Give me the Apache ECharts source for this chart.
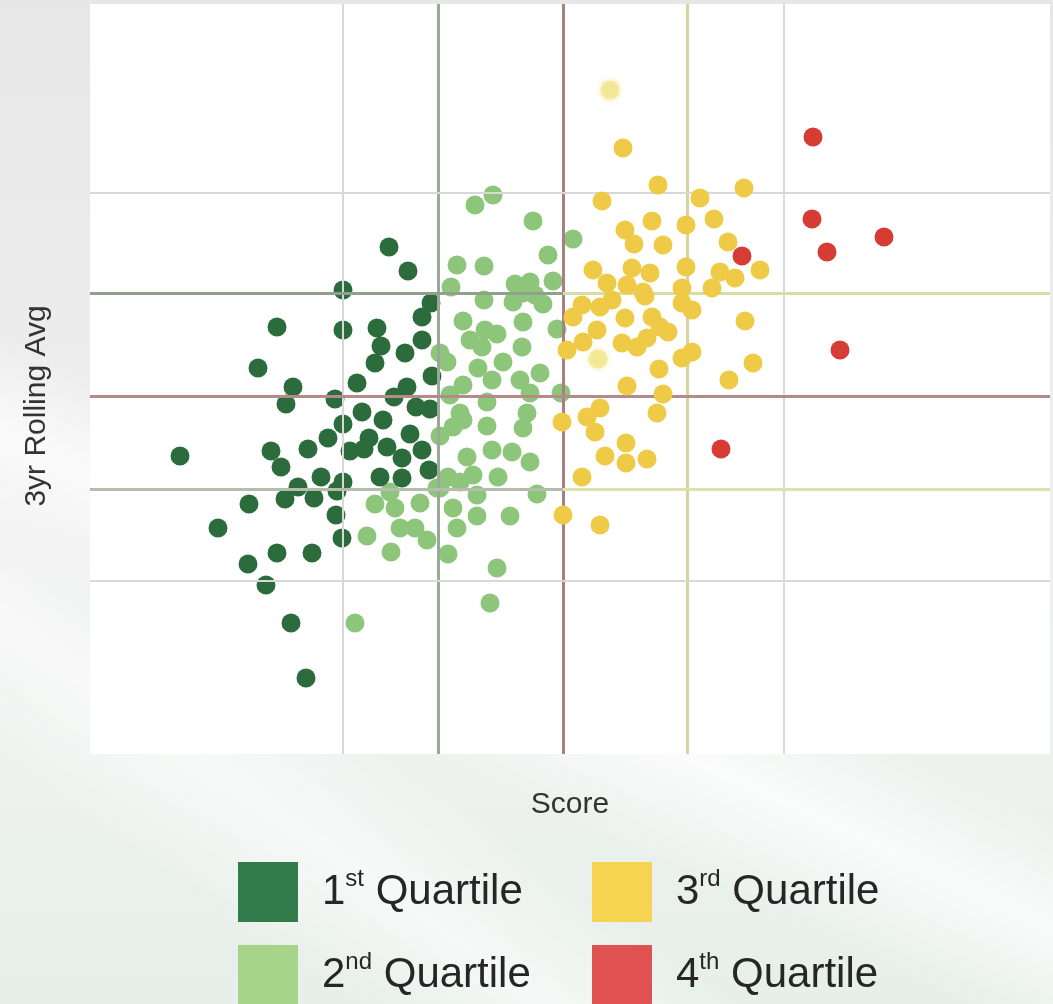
<!DOCTYPE html>
<html>
<head>
<meta charset="utf-8">
<script src="https://cdn.jsdelivr.net/npm/echarts/dist/echarts.min.js"></script>
<style>
  html, body { margin: 0; padding: 0; }
  body {
    width: 1053px; height: 1004px; overflow: hidden;
    background:
      linear-gradient(205deg, rgba(255,255,255,0) 55%, rgba(255,255,255,0.75) 62%, rgba(255,255,255,0) 70%),
      linear-gradient(215deg, rgba(255,255,255,0) 70%, rgba(255,255,255,0.6) 78%, rgba(255,255,255,0) 86%),
      linear-gradient(180deg, #e7e7e7 0%, #eeeeee 45%, #eef2ef 75%, #e6efea 100%);
  }
  #chart { width: 1053px; height: 1004px; }
</style>
</head>
<body>
<div id="chart"></div>
<script>
// Score (x) / 3yr Rolling Avg (y)
var q1Points = [
  [29.9, 50.7], [31.8, 48.3], [25.3, 46.4], [34.1, 45.1], [33.2, 43.7], [18.7, 42.7],
  [25.3, 42.4], [28.7, 42.6], [29.1, 40.8], [33.2, 41.4], [31.5, 40.1], [28.5, 39.1],
  [16.8, 38.6], [34.2, 37.8], [20.3, 36.7], [26.7, 37.1], [31.7, 36.7], [19.6, 35.0],
  [24.5, 35.5], [30.4, 35.7], [32.6, 34.7], [34.0, 34.5], [27.2, 34.2], [29.3, 33.4],
  [25.3, 33.0], [32.0, 32.0], [23.8, 31.6], [27.9, 31.6], [21.8, 30.5], [18.1, 30.3],
  [26.0, 30.3], [27.4, 30.5], [29.7, 30.7], [33.2, 30.4], [31.2, 29.6], [9.0, 29.8],
  [19.1, 28.7], [23.1, 27.7], [20.8, 26.7], [25.3, 27.2], [24.7, 26.3], [19.5, 25.5],
  [22.4, 25.6], [29.0, 27.7], [31.2, 27.6], [33.9, 28.4], [15.9, 25.0], [24.6, 23.9],
  [12.8, 22.6], [25.2, 21.6], [18.7, 20.1], [22.2, 20.1], [15.8, 19.0], [17.6, 16.9],
  [20.1, 13.1], [21.6, 7.6]
];
var q2Points = [
  [38.5, 54.9], [40.3, 55.9], [44.3, 53.3], [48.3, 51.5], [45.8, 49.9], [36.7, 48.9],
  [39.4, 48.8], [46.3, 47.3], [42.5, 47.0], [44.0, 47.2], [36.1, 46.7], [43.3, 46.1],
  [42.3, 45.2], [44.5, 45.9], [45.3, 45.0], [39.4, 45.4], [37.3, 43.3], [43.3, 43.2],
  [46.7, 42.5], [39.5, 42.4], [40.7, 42.0], [38.0, 41.4], [39.2, 40.7], [43.2, 40.7],
  [35.0, 40.1], [35.7, 39.2], [38.8, 38.6], [41.3, 39.2], [40.2, 37.4], [43.0, 37.4],
  [45.0, 38.1], [37.3, 36.9], [36.0, 35.9], [44.0, 36.1], [47.1, 36.1], [39.7, 35.2],
  [37.0, 34.1], [43.7, 34.1], [43.3, 32.6], [37.3, 33.4], [36.3, 32.7], [35.0, 31.8],
  [39.7, 32.8], [37.7, 29.7], [40.2, 30.4], [42.2, 30.2], [44.0, 29.2], [38.3, 27.9],
  [40.8, 27.7], [35.8, 27.7], [37.0, 27.2], [35.0, 26.6], [38.7, 25.9], [44.7, 26.0],
  [36.3, 24.6], [38.7, 23.8], [42.0, 23.8], [36.7, 22.6], [33.7, 21.4], [35.8, 20.0],
  [40.7, 18.6], [40.0, 15.1], [30.0, 26.2], [28.5, 25.0], [30.5, 24.6], [33.0, 25.1],
  [34.7, 26.6], [31.0, 22.6], [32.5, 22.6], [27.7, 21.8], [30.1, 20.2], [26.5, 13.1]
];
var q3Points = [
  [53.3, 60.6], [56.8, 56.9], [65.4, 56.6], [51.2, 55.3], [61.0, 55.6], [56.2, 53.3],
  [62.4, 53.5], [53.5, 52.4], [54.4, 51.0], [57.3, 50.9], [59.6, 52.9], [63.8, 51.2],
  [50.3, 48.4], [51.7, 47.1], [54.2, 48.6], [56.0, 48.1], [59.6, 48.7], [63.0, 48.2],
  [64.5, 47.6], [67.0, 48.4], [62.2, 46.6], [59.2, 46.6], [55.3, 46.2], [53.7, 46.9],
  [55.5, 45.8], [59.2, 45.1], [60.2, 44.4], [49.2, 44.9], [51.0, 44.7], [48.3, 43.7],
  [53.5, 43.6], [56.2, 43.7], [57.0, 42.7], [57.8, 42.2], [50.7, 42.4], [49.3, 41.2],
  [47.7, 40.4], [53.2, 41.1], [54.7, 40.7], [55.7, 41.6], [56.9, 38.5], [59.2, 39.6],
  [60.2, 40.2], [65.5, 43.3], [66.3, 39.1], [63.9, 37.4], [53.7, 36.8], [57.3, 36.0],
  [51.0, 34.6], [49.7, 33.7], [56.7, 34.1], [47.2, 33.2], [50.5, 32.2], [53.6, 31.1],
  [51.5, 29.8], [53.6, 29.1], [55.7, 29.5], [49.2, 27.7], [47.3, 23.9], [51.0, 22.9],
  [52.2, 45.4]
];
var q3FadedPoints = [[52.0, 66.4], [50.8, 39.5]];
var q4Points = [
  [72.3, 61.7], [72.2, 53.5], [79.4, 51.7], [73.7, 50.2], [75.0, 40.4], [63.1, 30.5],
  [65.2, 49.8]
];

var seriesNames = ['1st Quartile', '2nd Quartile', '3rd Quartile', '4th Quartile'];
var dotColors = ['#2b6b3c', '#8dc67b', '#efca46', '#d63b34'];
var legendColors = ['#327c4b', '#a6d48a', '#f6d452', '#e05252'];

// reference lines
var xRefLines = [25.3, 34.8, 47.3, 59.7, 69.4];
var xRefColors = ['#d8d8d8', '#9aa897', '#a97f80', '#d8d39c', '#dadada'];
var yRefLines = [56.1, 46.1, 35.8, 26.5, 17.3];
var yRefLeftColors = ['#d8d8d8', '#8fa18c', '#b58a8a', '#b4bcac', '#d8d8d8'];
var yRefRightColors = ['#d8d8d8', '#d8dca6', '#b38a8a', '#dde1b2', '#d8d8d8'];
var ySplitAt = 47.3;

var xMin = 0, xMax = 96, yMin = 0, yMax = 75;

var lineData = [];
xRefLines.forEach(function (v, i) {
  var w = (xRefColors[i] === '#d8d8d8' || xRefColors[i] === '#dadada') ? 2 : 3;
  lineData.push({ xAxis: v, lineStyle: { color: xRefColors[i], width: w, type: 'solid' } });
});
yRefLines.forEach(function (v, i) {
  var w = yRefLeftColors[i] === '#d8d8d8' ? 2 : 3;
  lineData.push([
    { coord: [xMin, v], lineStyle: { color: yRefLeftColors[i], width: w, type: 'solid' } },
    { coord: [ySplitAt, v] }
  ]);
  lineData.push([
    { coord: [ySplitAt, v], lineStyle: { color: yRefRightColors[i], width: w, type: 'solid' } },
    { coord: [xMax, v] }
  ]);
});

function supLabel(name) {
  var m = name.match(/^(\d)(\w\w) (.*)$/);
  return '{n|' + m[1] + '}{s|' + m[2] + '}{n| ' + m[3] + '}';
}
var legendText = {
  color: '#262626',
  padding: [0, 0, 0, 19],
  rich: {
    n: { fontFamily: 'Liberation Sans', fontSize: 42, lineHeight: 50, color: '#262626' },
    s: { fontFamily: 'Liberation Sans', fontSize: 24, lineHeight: 26, verticalAlign: 'top', color: '#262626' }
  }
};
// one legend box per entry: 2 columns x 2 rows
var legendLeft = [238, 238, 592, 592];
var legendTop = [862, 945, 862, 945];

var chart = echarts.init(document.getElementById('chart'));
var pointSets = [q1Points, q2Points, q3Points, q4Points];
var dotSeries = pointSets.map(function (pts, i) {
  return {
    name: seriesNames[i],
    type: 'scatter',
    data: pts,
    symbolSize: 19,
    z: 3 + (i === 1 ? 0 : i === 0 ? 1 : i),
    itemStyle: { color: dotColors[i], opacity: 1 },
    emphasis: { disabled: true }
  };
});

chart.setOption({
  animation: false,
  textStyle: { fontFamily: 'Liberation Sans' },
  grid: {
    left: 90, top: 4, width: 960, height: 750,
    show: true, backgroundColor: '#ffffff', borderWidth: 0
  },
  xAxis: {
    type: 'value', min: xMin, max: xMax,
    name: 'Score', nameLocation: 'middle', nameGap: 36,
    nameTextStyle: { fontSize: 30, color: '#333333', fontFamily: 'Liberation Sans' },
    axisLine: { show: false }, axisTick: { show: false },
    axisLabel: { show: false }, splitLine: { show: false }
  },
  yAxis: {
    type: 'value', min: yMin, max: yMax,
    name: '3yr Rolling Avg', nameLocation: 'middle', nameGap: 38,
    nameTextStyle: { fontSize: 30, color: '#333333', fontFamily: 'Liberation Sans', padding: [0, 54, 0, 0] },
    axisLine: { show: false }, axisTick: { show: false },
    axisLabel: { show: false }, splitLine: { show: false }
  },
  legend: seriesNames.map(function (name, i) {
    return {
      left: legendLeft[i], top: legendTop[i], padding: 0,
      itemWidth: 60, itemHeight: 60,
      icon: 'rect', selectedMode: false, formatter: supLabel, textStyle: legendText,
      data: [{ name: name, itemStyle: { color: legendColors[i] } }]
    };
  }),
  series: [
    {
      name: 'ref',
      type: 'scatter',
      data: [],
      z: 1,
      silent: true,
      markLine: {
        silent: true,
        symbol: ['none', 'none'],
        label: { show: false },
        emphasis: { disabled: true },
        data: lineData
      }
    },
    dotSeries[1],
    dotSeries[0],
    dotSeries[2],
    {
      name: 'faded',
      type: 'scatter',
      data: q3FadedPoints,
      symbolSize: 19,
      z: 5,
      itemStyle: { color: '#f2e690', shadowBlur: 6, shadowColor: '#f2e690' },
      emphasis: { disabled: true }
    },
    dotSeries[3]
  ]
});
</script>
</body>
</html>
